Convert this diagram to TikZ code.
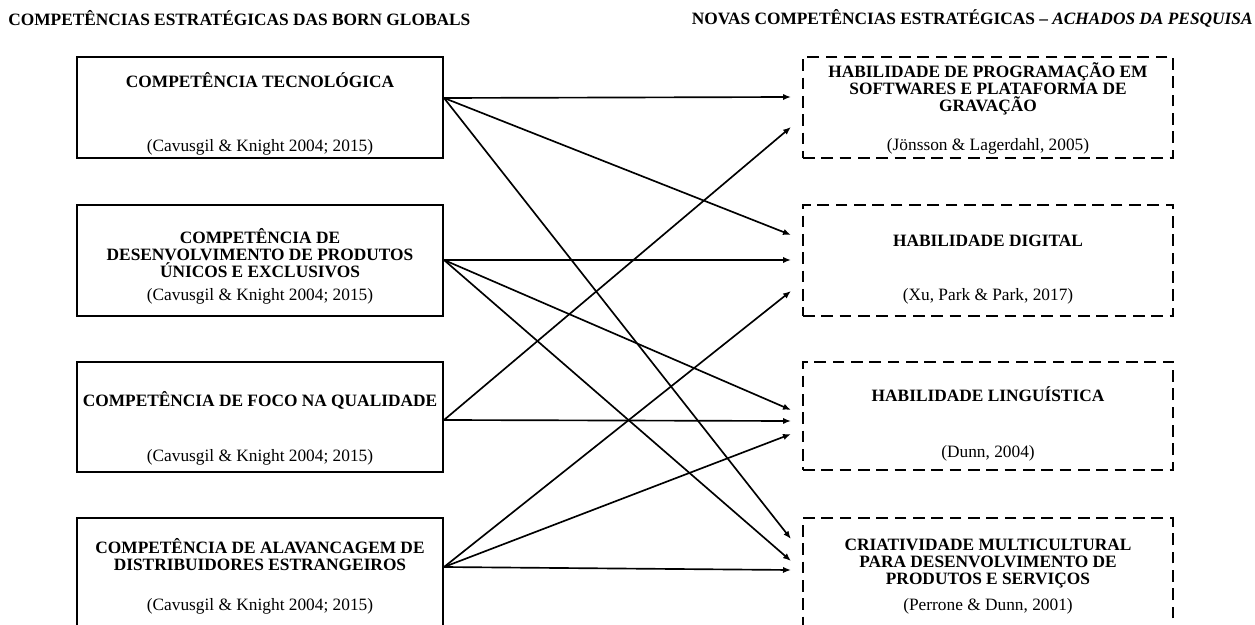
\documentclass[tikz,border=0pt]{standalone}
\usepackage{fontspec}
\setmainfont{Liberation Serif}
\usetikzlibrary{arrows.meta}
\begin{document}
\begin{tikzpicture}[x=0.6pt, y=-0.6pt,
    caixa/.style={draw, line width=1.2pt, minimum width=219.6pt, inner sep=0pt},
    achado/.style={draw, dash pattern=on 7pt off 4pt, line width=1.2pt, minimum width=222pt, inner sep=0pt},
    titulo/.style={font=\fontsize{10.4}{10.2}\selectfont\bfseries, align=center, inner sep=0pt},
    fonte/.style={font=\fontsize{10.4}{10.2}\selectfont, inner sep=0pt},
    seta/.style={-{Latex[length=4.8pt,width=3.8pt]}, line width=1pt}]
  \path[use as bounding box] (0,0) rectangle (1255,625);
  \clip (0,0) rectangle (1255,625);
  % Cabecalhos
  \node[titulo, anchor=west] (cab1) at (8,18) {COMPETÊNCIAS ESTRATÉGICAS DAS BORN GLOBALS};
  \node[titulo, anchor=east] (cab2) at (1253,18) {NOVAS COMPETÊNCIAS ESTRATÉGICAS – \textit{ACHADOS DA PESQUISA}};
  % Caixas da esquerda (competencias das born globals)
  \node[caixa, minimum height=60.6pt] (esq1) at (260,107.5) {};
  \node[caixa, minimum height=66.6pt] (esq2) at (260,260.5) {};
  \node[caixa, minimum height=66pt]   (esq3) at (260,417) {};
  \node[caixa, minimum height=80pt]   (esq4) at (260,585) {};
  \node[titulo] (tesq1) at (260,80)  {COMPETÊNCIA TECNOLÓGICA};
  \node[titulo] (tesq2) at (260,253) {COMPETÊNCIA DE\\DESENVOLVIMENTO DE PRODUTOS\\ÚNICOS E EXCLUSIVOS};
  \node[titulo] (tesq3) at (260,400) {COMPETÊNCIA DE FOCO NA QUALIDADE};
  \node[titulo] (tesq4) at (260,555) {COMPETÊNCIA DE ALAVANCAGEM DE\\DISTRIBUIDORES ESTRANGEIROS};
  \foreach \n/\y in {1/147, 2/296, 3/457, 4/606}
    \node[fonte] (fesq\n) at (260,\y) {(Cavusgil \& Knight 2004; 2015)};
  % Caixas da direita (achados da pesquisa)
  \node[achado, minimum height=60.6pt] (dir1) at (988,107.5) {};
  \node[achado, minimum height=66.6pt] (dir2) at (988,260.5) {};
  \node[achado, minimum height=64.8pt] (dir3) at (988,416) {};
  \node[achado, minimum height=80pt]   (dir4) at (988,585) {};
  \node[titulo] (tdir1) at (988,89)  {HABILIDADE DE PROGRAMAÇÃO EM\\SOFTWARES E PLATAFORMA DE\\GRAVAÇÃO};
  \node[titulo] (tdir2) at (988,241) {HABILIDADE DIGITAL};
  \node[titulo] (tdir3) at (988,394) {HABILIDADE LINGUÍSTICA};
  \node[titulo] (tdir4) at (988,564) {CRIATIVIDADE MULTICULTURAL\\PARA DESENVOLVIMENTO DE\\PRODUTOS E SERVIÇOS};
  \node[fonte] (fdir1) at (988,146) {(Jönsson \& Lagerdahl, 2005)};
  \node[fonte] (fdir2) at (988,296) {(Xu, Park \& Park, 2017)};
  \node[fonte] (fdir3) at (988,453) {(Dunn, 2004)};
  \node[fonte] (fdir4) at (988,606) {(Perrone \& Dunn, 2001)};
  % Pontos de saida e de chegada das setas
  \coordinate (s1) at (444,98);
  \coordinate (s2) at (444,260);
  \coordinate (s3) at (444,420);
  \coordinate (s4) at (444,567);
  \foreach \nome/\y in {a1/97, b1/127, a2/235, b2/260, c2/291, a3/410, b3/421, c3/434, a4/539, b4/561, c4/570}
    \coordinate (\nome) at (791,\y);
  % Setas
  \foreach \de/\para in {s1/a1, s1/a2, s1/a4, s2/b2, s2/a3, s2/b4, s3/b1, s3/b3, s4/c2, s4/c3, s4/c4}
    \draw[seta] (\de) -- (\para);
\end{tikzpicture}
\end{document}
